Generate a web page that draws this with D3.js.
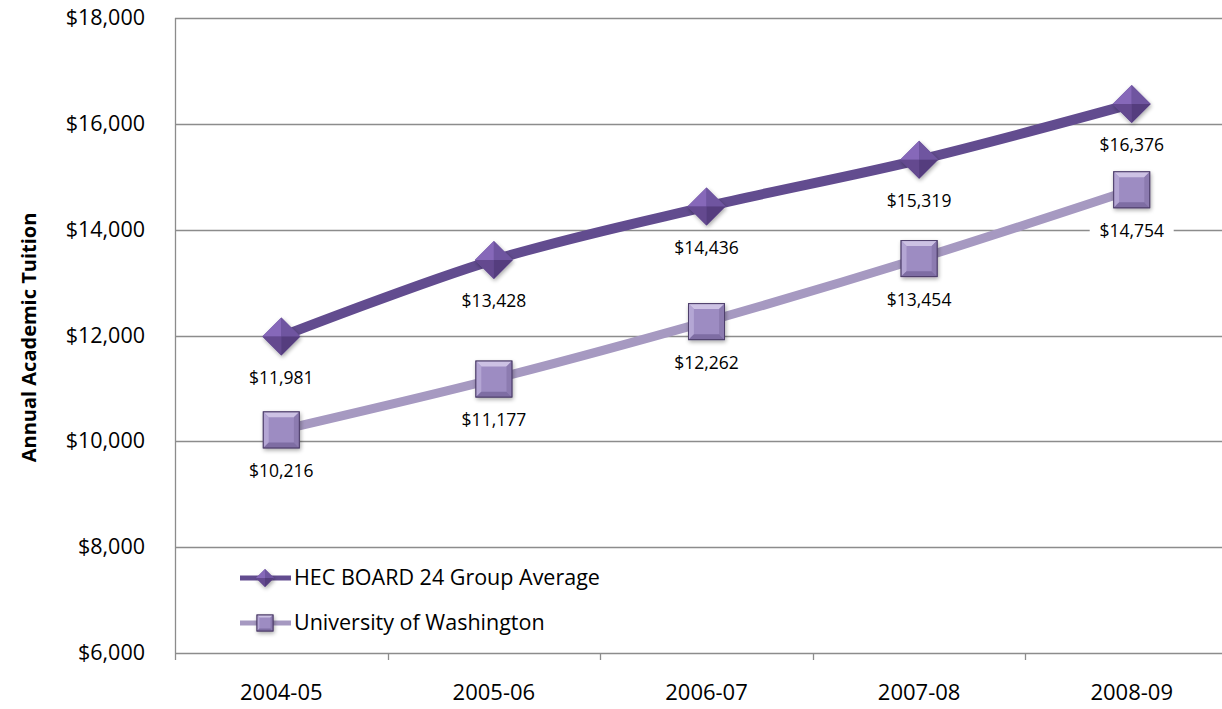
<!DOCTYPE html>
<html>
<head>
<meta charset="utf-8">
<script src="https://cdn.jsdelivr.net/npm/d3@7"></script>
<style>
body{margin:0;background:#fff;}
svg{display:block;font-family:"Open Sans",sans-serif;}
</style>
</head>
<body>
<div id="chart"></div>
<script>
var years = ["2004-05","2005-06","2006-07","2007-08","2008-09"]
var hec = [11981,13428,14436,15319,16376]
var uw = [10216,11177,12262,13454,14754]
var yTicks = [6000,8000,10000,12000,14000,16000,18000]
var seriesNames = ["HEC BOARD 24 Group Average","University of Washington"]

var W = 1222, H = 709
var margin = {top: 18, left: 175, bottom: 56, right: -16}

var svg = d3.select("#chart").append("svg")
	.attr("width", W)
	.attr("height", H)

var defs = svg.append("defs")
var sh = defs.append("filter").attr("id","shadow").attr("x","-50%").attr("y","-50%").attr("width","200%").attr("height","200%")
sh.append("feGaussianBlur").attr("in","SourceAlpha").attr("stdDeviation",2)
sh.append("feOffset").attr("dx",1).attr("dy",2).attr("result","b")
sh.append("feComponentTransfer").append("feFuncA").attr("type","linear").attr("slope",0.35)
var mg = sh.append("feMerge")
mg.append("feMergeNode")
mg.append("feMergeNode").attr("in","SourceGraphic")

var x = d3.scaleBand()
	.domain(years)
	.range([margin.left, W - margin.right])

var y = d3.scaleLinear()
	.domain([6000, 18000])
	.range([H - margin.bottom, margin.top])

var cx = function(d, i){ return x(years[i]) + x.bandwidth()/2 }

// grid
svg.append("g").selectAll("line")
	.data(yTicks)
	.enter().append("line")
		.attr("x1", margin.left)
		.attr("x2", W)
		.attr("y1", function(d){ return Math.round(y(d)) + 0.5 })
		.attr("y2", function(d){ return Math.round(y(d)) + 0.5 })
		.attr("stroke", "#8c8c8c")
		.attr("stroke-width", 1.3)

// y axis line
svg.append("line")
	.attr("x1", margin.left + 0.5).attr("x2", margin.left + 0.5)
	.attr("y1", y(18000)).attr("y2", y(6000))
	.attr("stroke", "#8c8c8c").attr("stroke-width", 1.3)

// x ticks between categories
var bounds = years.slice(1).map(function(d){ return x(d) })
bounds.unshift(margin.left)
svg.append("g").selectAll("line")
	.data(bounds)
	.enter().append("line")
		.attr("x1", function(d){ return Math.round(d) + 0.5 })
		.attr("x2", function(d){ return Math.round(d) + 0.5 })
		.attr("y1", y(6000))
		.attr("y2", y(6000) + 7)
		.attr("stroke", "#8c8c8c").attr("stroke-width", 1.3)

// y tick labels
svg.append("g").selectAll("text")
	.data(yTicks)
	.enter().append("text")
		.attr("x", 145)
		.attr("y", function(d){ return y(d) + 7 })
		.attr("text-anchor", "end")
		.style("font-size", "21.5px")
		.attr("fill", "#000")
		.text(function(d){ return "$" + d3.format(",")(d) })

// x labels
svg.append("g").selectAll("text")
	.data(years)
	.enter().append("text")
		.attr("x", function(d){ return x(d) + x.bandwidth()/2 })
		.attr("y", 700)
		.attr("text-anchor", "middle")
		.style("font-size", "22px")
		.text(function(d){ return d })

// axis title
svg.append("text")
	.attr("transform", "translate(36," + ((y(6000)+y(18000))/2 + 2) + ") rotate(-90)")
	.attr("text-anchor", "middle")
	.style("font-size", "20px")
	.style("font-weight", "bold")
	.text("Annual Academic Tuition")

var line = d3.line()
	.x(cx)
	.y(function(d){ return y(d) })
	.curve(d3.curveCatmullRom.alpha(0.5))

var hecColor = "#624c8f", uwColor = "#a699c1"

svg.append("path").datum(uw)
	.attr("d", line).attr("fill","none")
	.attr("stroke", uwColor).attr("stroke-width", 9)
svg.append("path").datum(hec)
	.attr("d", line).attr("fill","none")
	.attr("stroke", hecColor).attr("stroke-width", 10)

function diamond(g, s){
	// s = half size
	g.append("path").attr("d","M0,"+(-s)+"L"+s+",0L0,"+s+"L"+(-s)+",0Z").attr("fill","#6a519a").attr("filter","url(#shadow)")
	g.append("path").attr("d","M0,"+(-s)+"L0,0L"+(-s)+",0Z").attr("fill","#8668b9")
	g.append("path").attr("d","M0,"+(-s)+"L"+s+",0L0,0Z").attr("fill","#6f55a0")
	g.append("path").attr("d","M"+(-s)+",0L0,0L0,"+s+"Z").attr("fill","#64498f")
	g.append("path").attr("d","M"+s+",0L0,"+s+"L0,0Z").attr("fill","#553d7e")
}

function square(g, s){
	var b = s*0.3
	g.append("rect").attr("x",-s).attr("y",-s).attr("width",2*s).attr("height",2*s)
		.attr("fill","#9d8cc2").attr("stroke","#4e3f6b").attr("stroke-width",1).attr("filter","url(#shadow)")
	g.append("path").attr("d","M"+(-s)+","+(-s)+"L"+s+","+(-s)+"L"+(s-b)+","+(-s+b)+"L"+(-s+b)+","+(-s+b)+"Z").attr("fill","#cdc2e4")
	g.append("path").attr("d","M"+(-s)+","+(-s)+"L"+(-s+b)+","+(-s+b)+"L"+(-s+b)+","+(s-b)+"L"+(-s)+","+s+"Z").attr("fill","#b4a6d4")
	g.append("path").attr("d","M"+s+","+(-s)+"L"+s+","+s+"L"+(s-b)+","+(s-b)+"L"+(s-b)+","+(-s+b)+"Z").attr("fill","#8c7bb0")
	g.append("path").attr("d","M"+(-s)+","+s+"L"+s+","+s+"L"+(s-b)+","+(s-b)+"L"+(-s+b)+","+(s-b)+"Z").attr("fill","#7e6da3")
	g.append("rect").attr("x",-s).attr("y",-s).attr("width",2*s).attr("height",2*s)
		.attr("fill","none").attr("stroke","#4e3f6b").attr("stroke-width",1)
}

// markers
svg.append("g").selectAll("g")
	.data(uw).enter().append("g")
		.attr("transform", function(d,i){ return "translate(" + cx(d,i) + "," + y(d) + ")" })
		.each(function(){ square(d3.select(this), 18) })
svg.append("g").selectAll("g")
	.data(hec).enter().append("g")
		.attr("transform", function(d,i){ return "translate(" + cx(d,i) + "," + y(d) + ")" })
		.each(function(){ diamond(d3.select(this), 19) })

// data labels
function labels(data){
	var g = svg.append("g").selectAll("g")
		.data(data).enter().append("g")
			.attr("transform", function(d,i){ return "translate(" + cx(d,i) + "," + (y(d) + 41) + ")" })
	g.append("rect").attr("x",-42).attr("y",-13).attr("width",84).attr("height",26).attr("fill","#fff")
	g.append("text")
		.attr("text-anchor","middle")
		.attr("y", 6)
		.style("font-size","17.5px")
		.text(function(d){ return "$" + d3.format(",")(d) })
}
labels(uw)
labels(hec)

// legend
var legend = svg.append("g")
var leg = [{name: seriesNames[0], color: hecColor, w: 5, y: 578, mk: diamond, s: 9},
	{name: seriesNames[1], color: uwColor, w: 5, y: 623, mk: square, s: 8}]
leg.forEach(function(l){
	legend.append("line").attr("x1",240).attr("x2",291).attr("y1",l.y).attr("y2",l.y)
		.attr("stroke", l.color).attr("stroke-width", l.w)
	var m = legend.append("g").attr("transform","translate(265," + l.y + ")")
	l.mk(m, l.s)
	legend.append("text").attr("x",294).attr("y",l.y+7).style("font-size","21.5px").text(l.name)
})
</script>
</body>
</html>
